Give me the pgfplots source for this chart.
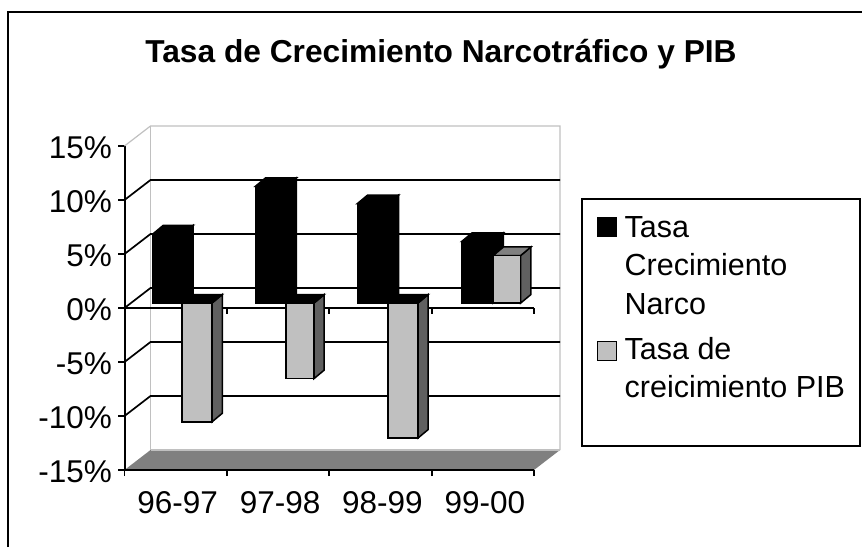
\documentclass[border=0pt]{standalone}
\usepackage{pgfplots}
\pgfplotsset{compat=1.18}
\usepackage{fontspec}
\setmainfont{Liberation Sans}
\definecolor{wall}{HTML}{C0C0C0}
\definecolor{floorc}{HTML}{808080}
\definecolor{sidec}{HTML}{606060}
\newcommand{\threebar}[6]{% left, right, value, front, side, top
  \pgfmathsetmacro{\ba}{0.46}
  \pgfmathsetmacro{\vt}{#3+0.46}
  \pgfmathsetmacro{\lb}{#1+0.10}
  \pgfmathsetmacro{\rb}{#2+0.10}
  \pgfmathsetmacro{\vb}{\vt+0.79}
  \pgfmathsetmacro{\bb}{0.46+0.79}
  \pgfmathsetmacro{\hi}{max(#3,0)+0.46}
  \pgfmathsetmacro{\hb}{\hi+0.79}
  \addplot[draw=black,line width=1.5pt,fill=#5,forget plot] coordinates {(#2,\ba)(\rb,\bb)(\rb,\vb)(#2,\vt)} -- cycle;
  \addplot[draw=black,line width=1.5pt,fill=#6,forget plot] coordinates {(#1,\hi)(\lb,\hb)(\rb,\hb)(#2,\hi)} -- cycle;
  \addplot[draw=black,line width=1.5pt,fill=#4,forget plot] coordinates {(#1,\ba)(#1,\vt)(#2,\vt)(#2,\ba)} -- cycle;
}
\newcommand{\gridl}[1]{%
  \pgfmathsetmacro{\gb}{#1+1.852}
  \addplot[black,line width=1.7pt,forget plot] coordinates {(0,#1)(0.254,\gb)(4.254,\gb)};
}
\begin{document}
\begin{tikzpicture}[x=1pt,y=1pt]
\path[use as bounding box] (0,0) rectangle (862,547);
\draw[line width=1.8pt] (8,0) -- (8,535) -- (862,535);
\begin{axis}[
  at={(124.5pt,77pt)},anchor=south west,
  scale only axis,width=409.5pt,height=324pt,
  xmin=0,xmax=4,ymin=-15,ymax=15,clip=false,
  axis lines=left,axis line style={-,line width=2pt},
  xtick={0,1,2,3,4},xticklabels={96-97,97-98,98-99,99-00},
  x tick label as interval=true,
  ytick={-15,-10,-5,0,5,10,15},
  yticklabel style={/pgf/number format/assume math mode=true},
  yticklabel={\pgfmathprintnumber{\tick}\%},
  tick style={black,line width=1.8pt},
  major tick length=6pt,
  tick align=outside,
  tick label style={font=\fontsize{31.5}{36}\selectfont},
  xticklabel style={xshift=2pt,yshift=-12pt},
  yticklabel style={xshift=-3pt,yshift=-2pt},
  legend style={at={(1.1525,0.7907)},anchor=north west,draw=none,fill=none,inner sep=0pt,
    row sep=17pt,column sep=6pt,
    cells={align=left,anchor=west,font=\fontsize{30.5}{38.7}\selectfont}},
  legend cell align=left,
]
% walls
\addplot[wall,line width=1.2pt,forget plot] coordinates {(0,15)(0.254,16.852)(4.254,16.852)(4.254,-13.148)};
\addplot[wall,line width=1.2pt,forget plot] coordinates {(0.254,16.852)(0.254,-13.148)};
% floor
\addplot[draw=none,fill=floorc,forget plot] coordinates {(0,-15)(0.254,-13.148)(4.254,-13.148)(4,-15)} -- cycle;
\addplot[wall,line width=1.2pt,forget plot] coordinates {(0.254,-13.148)(4.254,-13.148)};
\addplot[black,line width=2pt,forget plot] coordinates {(0,-15)(4,-15)};
% gridlines
\gridl{10}\gridl{5}\gridl{0}\gridl{-5}\gridl{-10}
% zero category axis
\addplot[black,line width=1.8pt,forget plot] coordinates {(0,0)(4,0)};
\addplot[black,line width=1.8pt,forget plot] coordinates {(1,0)(1,-0.55)};
\addplot[black,line width=1.8pt,forget plot] coordinates {(2,0)(2,-0.55)};
\addplot[black,line width=1.8pt,forget plot] coordinates {(3,0)(3,-0.55)};
\addplot[black,line width=1.8pt,forget plot] coordinates {(4,0)(4,-0.55)};
% black series
\threebar{0.278}{0.571}{6.4}{black}{black}{black}
\threebar{1.278}{1.580}{10.8}{black}{black}{black}
\threebar{2.274}{2.577}{9.2}{black}{black}{black}
\threebar{3.294}{3.600}{5.7}{black}{black}{black}
% grey series
\threebar{0.562}{0.855}{-11.0}{wall}{sidec}{black}
\threebar{1.578}{1.851}{-7.0}{wall}{sidec}{black}
\threebar{2.574}{2.867}{-12.5}{wall}{sidec}{black}
\threebar{3.602}{3.870}{4.4}{wall}{sidec}{floorc}
% legend
\addlegendimage{legend image code/.code={\draw[line width=1pt,fill=black] (-3pt,29pt) rectangle (16pt,48pt);}}
\addlegendentry{Tasa\\Crecimiento\\Narco}
\addlegendimage{legend image code/.code={\draw[line width=1pt,fill=wall] (-3pt,8pt) rectangle (16pt,27pt);}}
\addlegendentry{Tasa de\\creicimiento PIB}
\end{axis}
\draw[line width=1.5pt] (582,101) rectangle (860,348);
\node[font=\fontsize{31.7}{34}\selectfont\bfseries,anchor=base] at (441,484) {Tasa de Crecimiento Narcotráfico y PIB};
\end{tikzpicture}
\end{document}
